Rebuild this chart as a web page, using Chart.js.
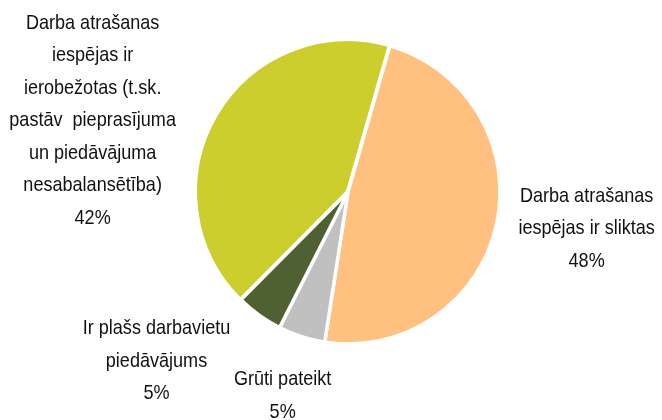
<!DOCTYPE html>
<html>
<head>
<meta charset="utf-8">
<script src="https://cdn.jsdelivr.net/npm/chart.js@4.4.1/dist/chart.umd.min.js"></script>
<style>
  html, body { margin: 0; padding: 0; background: #fff; }
  #wrap { width: 662px; height: 420px; }
</style>
</head>
<body>
<div id="wrap"><canvas id="myChartPie"></canvas></div>
<script>
const pieLabels = [
    ['Darba atrašanas', 'iespējas ir sliktas'],
    ['Grūti pateikt'],
    ['Ir plašs darbavietu', 'piedāvājums'],
    ['Darba atrašanas', 'iespējas ir', 'ierobežotas (t.sk.', 'pastāv  pieprasījuma', 'un piedāvājuma', 'nesabalansētība)']
];
const pieValues = [48, 5, 5, 42];
const pieColors = ['#FFC080', '#C0C0C0', '#4F6130', '#CCCE2E'];

// label spots, in units of the pie radius, from the pie centre
const labelSpots = [[1.57, 0.24], [-0.43, 1.34], [-1.26, 1.11], [-1.68, -0.47]];

const outsideLabels = {
    id: 'outsideLabels',
    afterDatasetsDraw(chart) {
        const ctx = chart.ctx;
        const arc0 = chart.getDatasetMeta(0).data[0];
        const cx = arc0.x, cy = arc0.y, r = arc0.outerRadius;
        const lineH = 32.5;
        ctx.save();
        ctx.font = '21px "Liberation Sans", Arial, sans-serif';
        ctx.fillStyle = '#111';
        ctx.textAlign = 'center';
        ctx.textBaseline = 'middle';
        pieLabels.forEach(function (lines, i) {
            const all = lines.concat([pieValues[i] + '%']);
            const x = cx + labelSpots[i][0] * r;
            const y0 = cy + labelSpots[i][1] * r - (all.length - 1) * lineH / 2;
            all.forEach(function (t, j) {
                // narrow text like the original
                ctx.save();
                ctx.translate(x, y0 + j * lineH);
                ctx.scale(0.86, 1);
                ctx.fillText(t, 0, 0);
                ctx.restore();
            });
        });
        ctx.restore();
    }
};

let pieChart;

function showPie() {

    const ctx = document.getElementById('myChartPie');

    const data = {
        labels: pieLabels,
        datasets: [{
            data: pieValues,
            backgroundColor: pieColors,
            borderColor: '#fff',
            borderWidth: 3.5,
            offset: [0, 0, 0, 2]
        }]
    };

    const options = {
        responsive: true,
        maintainAspectRatio: false,
        animation: false,
        rotation: 16,
        radius: 152,
        layout: {
            padding: { top: 36, bottom: 72, left: 100, right: 66 }
        },
        plugins: {
            legend: { display: false },
            tooltip: { enabled: false }
        }
    };

    pieChart = new Chart(ctx, {
        type: 'pie',
        data: data,
        options: options,
        plugins: [outsideLabels]
    });
}

showPie();
</script>
</body>
</html>
